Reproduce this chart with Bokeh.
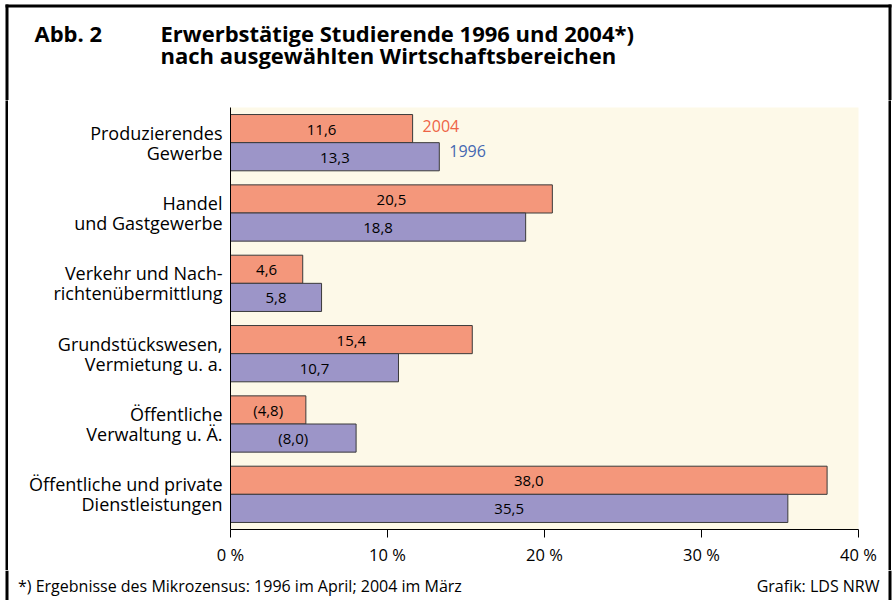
from bokeh.plotting import figure
from bokeh.models import Range1d, Label, LabelSet, FixedTicker, ColumnDataSource, Spacer
from bokeh.layouts import column, row
from bokeh.core.properties import value
from bokeh.embed import file_html
from bokeh.resources import INLINE

# ---------------- data ----------------
categories = [
    ["Produzierendes", "Gewerbe"],
    ["Handel", "und Gastgewerbe"],
    ["Verkehr und Nach-", "richtenübermittlung"],
    ["Grundstückswesen,", "Vermietung u. a."],
    ["Öffentliche", "Verwaltung u. Ä."],
    ["Öffentliche und private", "Dienstleistungen"],
]
values_2004 = [11.6, 20.5, 4.6, 15.4, 4.8, 38.0]
values_1996 = [13.3, 18.8, 5.8, 10.7, 8.0, 35.5]
labels_2004 = ["11,6", "20,5", "4,6", "15,4", "(4,8)", "38,0"]
labels_1996 = ["13,3", "18,8", "5,8", "10,7", "(8,0)", "35,5"]
series_names = ["2004", "1996"]
x_ticks = [0, 10, 20, 30, 40]
x_tick_labels = ["0 %", "10 %", "20 %", "30 %", "40 %"]
fig_label = "Abb. 2"
title_lines = ["Erwerbstätige Studierende 1996 und 2004*)",
               "nach ausgewählten Wirtschaftsbereichen"]
footnote = "*) Ergebnisse des Mikrozensus: 1996 im April; 2004 im März"
source_note = "Grafik: LDS NRW"

# ---------------- styling ----------------
FONT = "Open Sans"
C2004 = "#F4977B"
C1996 = "#9C95C8"
T2004 = "#EE6446"
T1996 = "#4467B1"
CREAM = "#FDF9E8"
OUTL = "#3a3a3a"

PAGE_W = 896
TOP_H, MAIN_H, BOT_H = 100, 470, 30
EDGE_GAP, EDGE_LINE = 5, 3
MAIN_W = PAGE_W - 2 * (EDGE_GAP + EDGE_LINE)


def blank_fig(w, h, x0, x1, y0, y1, fill="white"):
    f = figure(width=w, height=h, x_range=Range1d(x0, x1), y_range=Range1d(y1, y0),
               output_backend="svg", toolbar_location=None, title=None,
               x_axis_type=None, y_axis_type=None, min_border=0)
    f.outline_line_color = None
    f.background_fill_color = fill
    f.border_fill_color = fill
    return f


def ptext(f, x, y, txt, size, bold=False, align="left", color="black"):
    f.text(x=[x], y=[y], text=[txt], text_font=value(FONT), text_font_size=size,
           text_font_style="bold" if bold else "normal", text_align=align,
           text_baseline="alphabetic", text_color=color)


# ---------- header ----------
top = blank_fig(PAGE_W, TOP_H, 0, PAGE_W, 0, TOP_H)
top.quad(left=[5, 5, 888], right=[891, 8, 891], top=[4, 4, 4], bottom=[7, TOP_H, TOP_H],
         fill_color="black", line_color=None)
ptext(top, 34, 32, fig_label, "22px", bold=True)
ptext(top, 160, 32, title_lines[0], "22px", bold=True)
ptext(top, 160, 54, title_lines[1], "22px", bold=True)

# ---------- side edges (solid black strips) ----------
edge_l = row(Spacer(width=EDGE_GAP, height=MAIN_H),
             blank_fig(EDGE_LINE, MAIN_H, 0, 1, 0, 1, fill="black"))
edge_r = row(blank_fig(EDGE_LINE, MAIN_H, 0, 1, 0, 1, fill="black"),
             Spacer(width=EDGE_GAP, height=MAIN_H))

# ---------- main chart ----------
n = len(categories)
src = ColumnDataSource(dict(
    y04=[i + 0.3 for i in range(n)],
    y96=[i + 0.7 for i in range(n)],
    v04=values_2004,
    v96=values_1996,
    m04=[v / 2 for v in values_2004],
    m96=[v / 2 for v in values_1996],
    l04=labels_2004,
    l96=labels_1996,
))

p = figure(width=MAIN_W, height=MAIN_H, x_range=Range1d(0, 40), y_range=Range1d(n, 0),
           output_backend="svg", toolbar_location=None, title=None,
           min_border_left=222, min_border_top=7, min_border_right=30, min_border_bottom=41)
p.background_fill_color = CREAM
p.border_fill_color = "white"
p.outline_line_color = None
p.xgrid.visible = False
p.ygrid.visible = False

p.hbar(y="y04", right="v04", left=0, height=0.4, source=src,
       fill_color=C2004, line_color=OUTL, line_width=1)
p.hbar(y="y96", right="v96", left=0, height=0.4, source=src,
       fill_color=C1996, line_color=OUTL, line_width=1)

for col_x, col_y, col_t in (("m04", "y04", "l04"), ("m96", "y96", "l96")):
    p.add_layout(LabelSet(x=col_x, y=col_y, text=col_t, source=src,
                          text_align="center", text_baseline="alphabetic",
                          y_offset=-6, text_font=value(FONT),
                          text_font_size="15px", text_color="black"))

p.add_layout(Label(x=values_2004[0], y=0.3, x_offset=10, y_offset=3, text=series_names[0],
                   text_align="left", text_baseline="alphabetic",
                   text_font=FONT, text_font_size="16px", text_color=T2004))
p.add_layout(Label(x=values_1996[0], y=0.7, x_offset=10, y_offset=6, text=series_names[1],
                   text_align="left", text_baseline="alphabetic",
                   text_font=FONT, text_font_size="16px", text_color=T1996))

# x axis
xa = p.xaxis[0]
xa.ticker = FixedTicker(ticks=x_ticks)
xa.major_label_overrides = {t: s for t, s in zip(x_ticks, x_tick_labels)}
xa.major_tick_in = 0
xa.major_tick_out = 8
xa.minor_tick_line_color = None
xa.axis_line_color = "black"
xa.major_tick_line_color = "black"
xa.major_label_text_font = FONT
xa.major_label_text_font_size = "16.5px"
xa.major_label_text_color = "black"
xa.major_label_standoff = 5

# y axis: category labels
ya = p.yaxis[0]
cat_pos = [i + 0.5 for i in range(n)]
ya.ticker = FixedTicker(ticks=cat_pos)
ya.major_label_overrides = {pos: "\n".join(c) for pos, c in zip(cat_pos, categories)}
ya.major_tick_line_color = None
ya.minor_tick_line_color = None
ya.major_tick_in = 0
ya.major_tick_out = 0
ya.major_label_standoff = 8
ya.major_label_text_font = FONT
ya.major_label_text_font_size = "18px"
ya.major_label_text_line_height = 0.82
ya.major_label_text_color = "black"
ya.axis_line_color = "black"

# ---------- footer ----------
bot = blank_fig(PAGE_W, BOT_H, 0, PAGE_W, 0, BOT_H)
bot.quad(left=[5, 888], right=[8, 891], top=[0, 0], bottom=[BOT_H, BOT_H],
         fill_color="black", line_color=None)
ptext(bot, 17.5, 15, footnote, "16px")
ptext(bot, 879, 15, source_note, "16px", align="right")

layout = column(top, row(edge_l, p, edge_r), bot)
open("out.html", "w").write(file_html(layout, INLINE))
